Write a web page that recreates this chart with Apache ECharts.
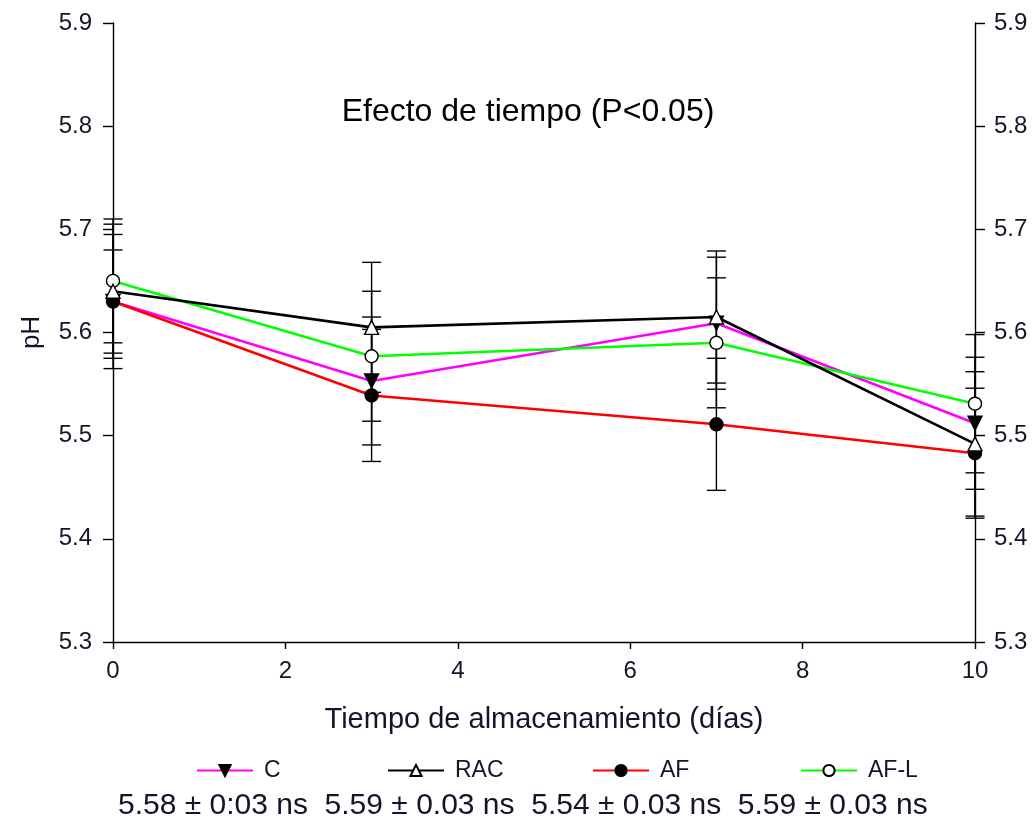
<!DOCTYPE html>
<html>
<head>
<meta charset="utf-8">
<script src="https://cdn.jsdelivr.net/npm/echarts@6/dist/echarts.min.js"></script>
<style>
  html, body { margin: 0; padding: 0; background: #fff; }
  #chart { width: 1036px; height: 822px; }
</style>
</head>
<body>
<div id="chart"></div>
<script>
// Storage days and mean pH per treatment
var days = [0, 3, 7, 10];
var seriesNames = ['C', 'RAC', 'AF', 'AF-L'];
var phC   = [5.630, 5.553, 5.609, 5.512];
var phRAC = [5.640, 5.605, 5.615, 5.492];
var phAF  = [5.630, 5.539, 5.511, 5.483];
var phAFL = [5.650, 5.577, 5.590, 5.531];
// Standard errors (half-width of the bars)
var errC   = [0.065, 0.062, 0.064, 0.064];
var errRAC = [0.065, 0.063, 0.064, 0.070];
var errAF  = [0.050, 0.064, 0.064, 0.063];
var errAFL = [0.060, 0.063, 0.063, 0.067];
// Overall treatment means shown under the legend
var meanLabels = ['5.58 \u00b1 0:03 ns', '5.59 \u00b1 0.03 ns', '5.54 \u00b1 0.03 ns', '5.59 \u00b1 0.03 ns'];
var yTicks = [5.3, 5.9, 0.1];   // min, max, step
var xTicks = [0, 10, 2];

var FONT = '"Liberation Sans", Arial, sans-serif';
var TXT = '#14142a';

function pairs(xs, ys) { return xs.map(function (x, i) { return [x, ys[i]]; }); }
function errData(xs, ys, es) { return xs.map(function (x, i) { return [x, ys[i] - es[i], ys[i] + es[i]]; }); }

function errorSeries(xs, ys, es) {
  return {
    type: 'custom',
    silent: true,
    z: 1,
    data: errData(xs, ys, es),
    renderItem: function (params, api) {
      var lo = api.coord([api.value(0), api.value(1)]);
      var hi = api.coord([api.value(0), api.value(2)]);
      var w = 9.5;
      var st = { stroke: '#000', lineWidth: 1.4 };
      return {
        type: 'group',
        children: [
          { type: 'line', shape: { x1: lo[0], y1: lo[1], x2: hi[0], y2: hi[1] }, style: st },
          { type: 'line', shape: { x1: lo[0] - w, y1: lo[1], x2: lo[0] + w, y2: lo[1] }, style: st },
          { type: 'line', shape: { x1: hi[0] - w, y1: hi[1], x2: hi[0] + w, y2: hi[1] }, style: st }
        ]
      };
    }
  };
}

function lineSeries(name, ys, lineColor, symbol, fill, rotate) {
  return {
    name: name,
    type: 'line',
    data: pairs(days, ys),
    z: 3,
    symbol: symbol,
    symbolSize: symbol === 'circle' ? 13 : 14,
    symbolRotate: rotate || 0,
    lineStyle: { color: lineColor, width: 2.6 },
    itemStyle: { color: fill, borderColor: '#000', borderWidth: 1.4 },
    emphasis: { disabled: true }
  };
}

var legendLefts = [191, 382, 587, 795];

var chart = echarts.init(document.getElementById('chart'));
chart.setOption({
  animation: false,
  backgroundColor: '#fff',
  grid: { left: 113, right: 61, top: 23, bottom: 180 },
  xAxis: {
    type: 'value', min: xTicks[0], max: xTicks[1], interval: xTicks[2],
    name: 'Tiempo de almacenamiento (días)',
    nameLocation: 'middle', nameGap: 63,
    nameTextStyle: { fontFamily: FONT, fontSize: 29, color: TXT },
    axisLine: { lineStyle: { color: '#000', width: 1.4 } },
    axisTick: { inside: false, length: 7, lineStyle: { color: '#000', width: 1.4 } },
    axisLabel: { fontFamily: FONT, fontSize: 24, color: TXT, margin: 17 },
    splitLine: { show: false }
  },
  yAxis: [
    {
      type: 'value', min: yTicks[0], max: yTicks[1], interval: yTicks[2], position: 'left',
      name: 'pH', nameLocation: 'middle', nameGap: 68, nameRotate: 90,
      nameTextStyle: { fontFamily: FONT, fontSize: 26, color: TXT },
      axisLine: { show: true, lineStyle: { color: '#000', width: 1.4 } },
      axisTick: { show: true, inside: false, length: 10, lineStyle: { color: '#000', width: 1.4 } },
      axisLabel: { fontFamily: FONT, fontSize: 24, color: TXT, margin: 21,
        formatter: function (v) { return v.toFixed(1); } },
      splitLine: { show: false }
    },
    {
      type: 'value', min: yTicks[0], max: yTicks[1], interval: yTicks[2], position: 'right',
      axisLine: { show: true, lineStyle: { color: '#000', width: 1.4 } },
      axisTick: { show: true, inside: false, length: 10, lineStyle: { color: '#000', width: 1.4 } },
      axisLabel: { fontFamily: FONT, fontSize: 24, color: TXT, margin: 19,
        formatter: function (v) { return v.toFixed(1); } },
      splitLine: { show: false }
    }
  ],
  legend: seriesNames.map(function (n, i) {
    return {
      data: [n], left: legendLefts[i], top: 754,
      itemWidth: 56, itemHeight: 14,
      textStyle: { fontFamily: FONT, fontSize: 23, color: TXT, padding: [0, 0, 0, 6] },
      selectedMode: false
    };
  }),
  graphic: [
    { type: 'text', x: 528, y: 112, z: 10,
      style: { text: 'Efecto de tiempo (P<0.05)', font: '32px ' + FONT, fill: '#000',
        align: 'center', verticalAlign: 'middle' } },
    { type: 'text', x: 118, y: 806, z: 10,
      style: { text: meanLabels.join('  '), font: '30px ' + FONT, fill: TXT,
        align: 'left', verticalAlign: 'middle' } }
  ],
  series: [
    errorSeries(days, phC, errC),
    errorSeries(days, phRAC, errRAC),
    errorSeries(days, phAF, errAF),
    errorSeries(days, phAFL, errAFL),
    lineSeries('C', phC, '#ff00ff', 'triangle', '#000', 180),
    lineSeries('AF', phAF, '#ff0000', 'circle', '#000'),
    lineSeries('AF-L', phAFL, '#00ff00', 'circle', '#fff'),
    lineSeries('RAC', phRAC, '#000000', 'triangle', '#fff')
  ]
});
</script>
</body>
</html>
